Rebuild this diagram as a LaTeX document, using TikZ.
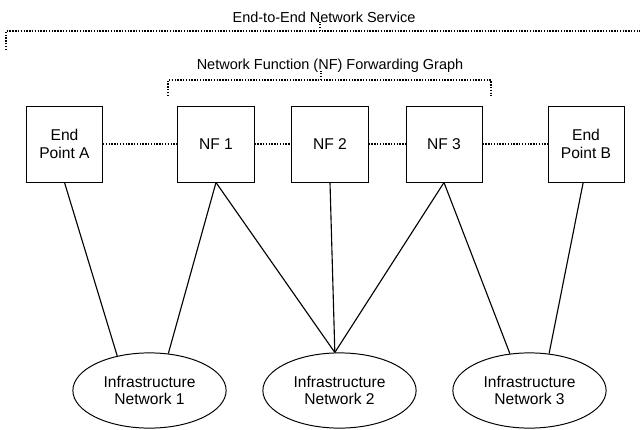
\documentclass[tikz,border=0pt]{standalone}
\usepackage{fontspec}
\setmainfont{Liberation Sans}
\usetikzlibrary{shapes.geometric, positioning}
\tikzstyle{Box}= [draw, line width=0.7pt, minimum width=1.9cm, minimum height=1.9cm, inner sep=0pt, align=center]
\tikzstyle{Net}= [draw, ellipse, line width=0.7pt, minimum width=3.83cm, minimum height=1.88cm, inner sep=0pt, align=center]
\tikzstyle{Caption}= [font=\fontsize{10.3}{12}\selectfont]
\tikzstyle{link}= [line width=0.75pt, dash pattern=on 1pt off 1pt]
\tikzstyle{wire}= [line width=0.8pt]

\begin{document}
\begin{tikzpicture}[x=0.025cm, y=-0.025cm, font=\fontsize{11.1}{12.5}\selectfont]
    \useasboundingbox (0,0) rectangle (640,429);

    % end points and network functions
    \node [Box] (EPA) at (64.5,144) {End\\Point A};
    \node [Box] (NF1) at (216,144) {NF 1};
    \node [Box] (NF2) at (330,144) {NF 2};
    \node [Box] (NF3) at (444,144) {NF 3};
    \node [Box] (EPB) at (586,144) {End\\Point B};

    % infrastructure networks
    \node [Net] (IN1) at (149.5,390.5) {Infrastructure\\Network 1};
    \node [Net] (IN2) at (339.5,390.5) {Infrastructure\\Network 2};
    \node [Net] (IN3) at (529.5,390.5) {Infrastructure\\Network 3};

    % forwarding graph path
    \draw [link] (EPA) -- (NF1);
    \draw [link] (NF1) -- (NF2);
    \draw [link] (NF2) -- (NF3);
    \draw [link] (NF3) -- (EPB);

    % attachment to infrastructure
    \draw [wire] (EPA.south) -- (IN1.133);
    \draw [wire] (NF1.south) -- (IN1.63);
    \draw [wire] (NF1.south) -- (IN2.97);
    \draw [wire] (NF2.south) -- (IN2.97);
    \draw [wire] (NF3.south) -- (IN2.97);
    \draw [wire] (NF3.south) -- (IN3.118);
    \draw [wire] ([xshift=-2pt]EPB.south) -- (IN3.62);

    % end-to-end service bracket
    \node [Caption] (E2E) at (324,17) {End-to-End Network Service};
    \coordinate (e2eLeft) at (6,50);
    \coordinate (e2eTip) at (320,31);
    \coordinate (e2eRight) at (640,31);
    \draw [link] (e2eLeft) |- (e2eRight);
    \draw [link] (e2eTip) -- ++(0,-9);

    % forwarding graph bracket
    \node [Caption] (NFG) at (330,66) {Network Function (NF) Forwarding Graph};
    \coordinate (nfgLeft) at (168,96);
    \coordinate (nfgTip) at (321,80);
    \coordinate (nfgRight) at (491,96);
    \draw [link] (nfgLeft) |- (nfgTip) -| (nfgRight);
    \draw [link] (nfgTip) -- ++(0,-9);

\end{tikzpicture}
\end{document}
